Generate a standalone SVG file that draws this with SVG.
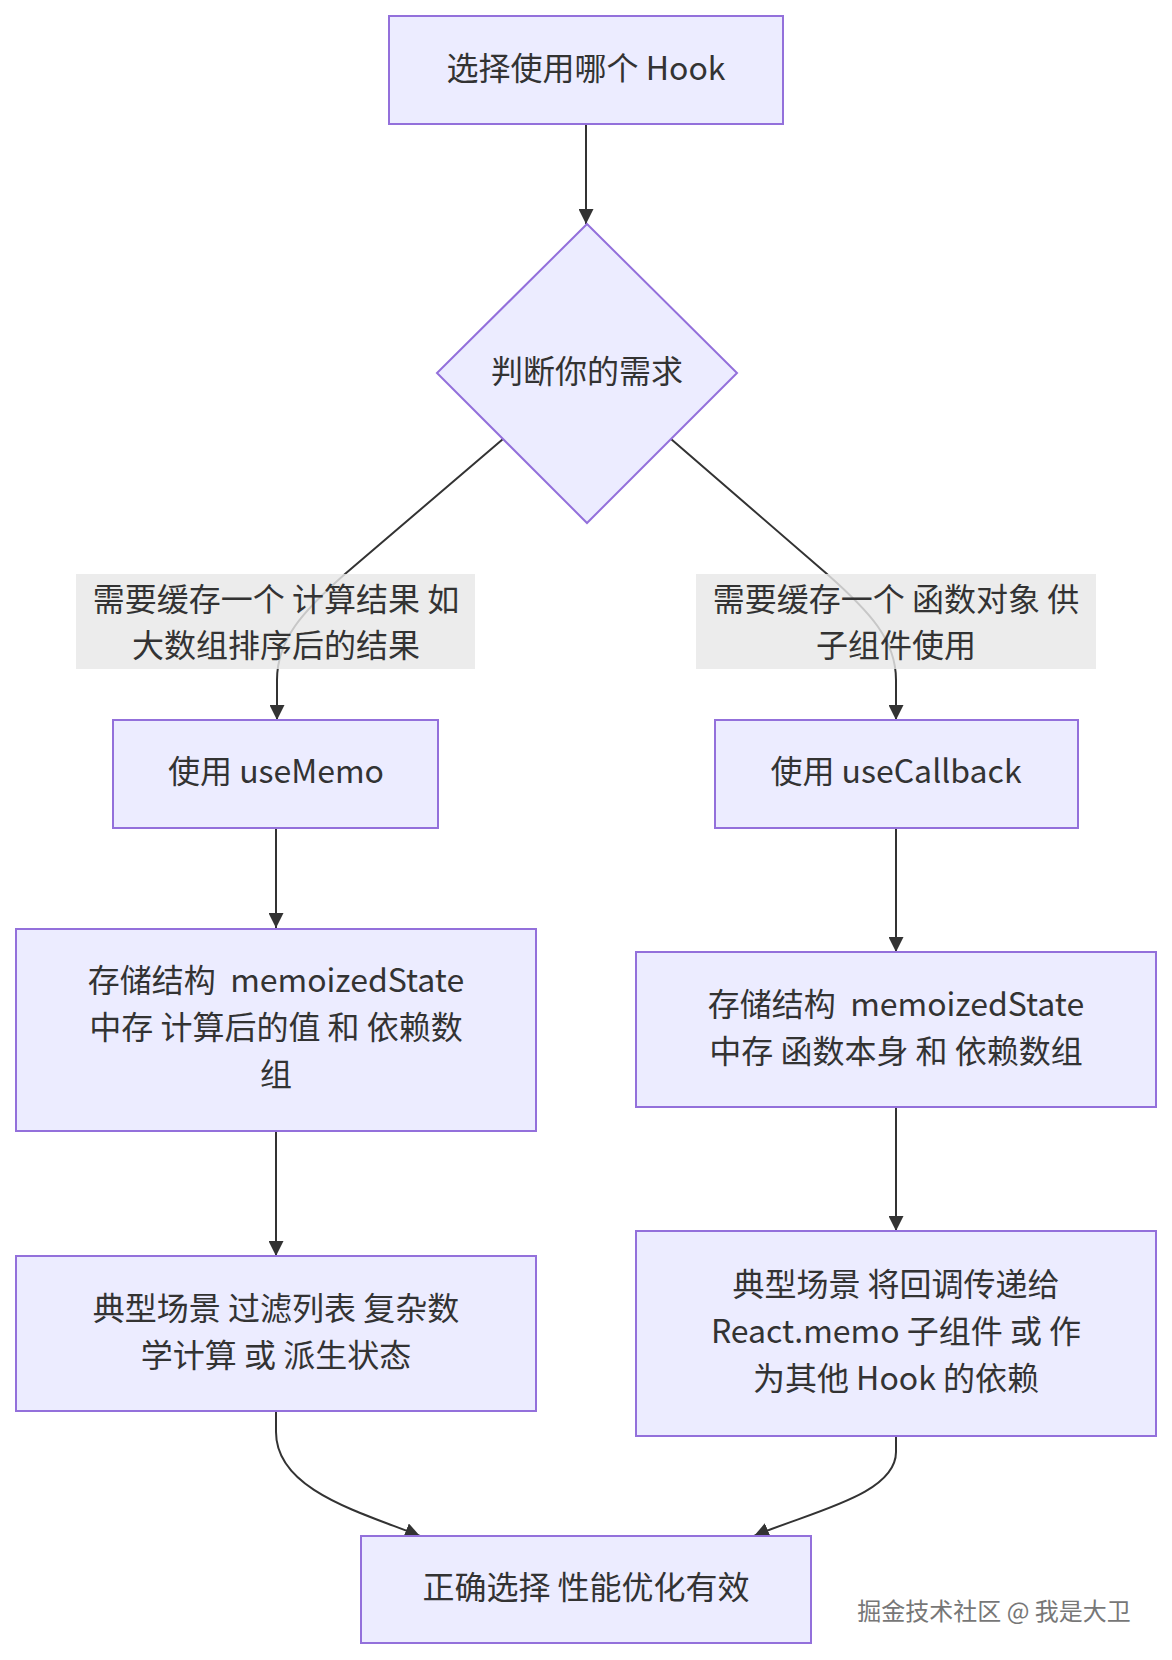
<svg xmlns="http://www.w3.org/2000/svg" width="1172" height="1660" viewBox="0 0 1172 1660">
<defs>
<marker id="arrow" viewBox="0 0 10 10" refX="10" refY="5" markerWidth="15" markerHeight="15" markerUnits="userSpaceOnUse" orient="auto">
<path d="M0,0 L10,5 L0,10 z" fill="#333333"/>
</marker>
<style>
.node{fill:#ECECFF;stroke:#9370DB;stroke-width:2}
.edge{fill:none;stroke:#333333;stroke-width:2;marker-end:url(#arrow)}
.lbl{fill:#e8e8e8;fill-opacity:0.82}
text{font-family:"Noto Sans CJK SC","Noto Sans",sans-serif;font-size:32px;fill:#333333;text-anchor:middle;dominant-baseline:central}
.wm{font-size:24px;fill:#777777;stroke:#ffffff;stroke-width:0.6;paint-order:stroke}
</style>
</defs>
<rect width="1172" height="1660" fill="#ffffff"/>
<g id="connectors">
<path class="edge" d="M586,124 L586,224"/>
<path class="edge" d="M503,439 L345,574 C302,612 277,640 277,680 L277,720"/>
<path class="edge" d="M671,439 L827,574 C870,612 896,640 896,680 L896,720"/>
<path class="edge" d="M276,828 L276,928"/>
<path class="edge" d="M896,828 L896,952"/>
<path class="edge" d="M276,1131 L276,1256"/>
<path class="edge" d="M896,1107 L896,1231"/>
<path class="edge" d="M276,1411 L276,1432 C276,1490 360,1512 420,1536"/>
<path class="edge" d="M896,1436 L896,1452 C896,1495 810,1512 754,1536"/>
<g id="label-left">
<rect class="lbl" x="76" y="574" width="399" height="95"/>
<text x="276" y="597">需要缓存一个 计算结果 如</text>
<text x="276" y="643">大数组排序后的结果</text>
</g>
<g id="label-right">
<rect class="lbl" x="696" y="574" width="400" height="95"/>
<text x="896" y="597">需要缓存一个 函数对象 供</text>
<text x="896" y="643">子组件使用</text>
</g>
</g>
<g id="start">
<rect class="node" x="389" y="16" width="394" height="108"/>
<text x="586" y="66">选择使用哪个 Hook</text>
</g>
<g id="decide">
<polygon class="node" points="587,224 737,373 587,523 437,373"/>
<text x="587" y="369">判断你的需求</text>
</g>
<g id="useMemo">
<rect class="node" x="113" y="720" width="325" height="108"/>
<text x="276" y="769">使用 useMemo</text>
</g>
<g id="useCallback">
<rect class="node" x="715" y="720" width="363" height="108"/>
<text x="896" y="769">使用 useCallback</text>
</g>
<g id="memoStore">
<rect class="node" x="16" y="929" width="520" height="202"/>
<text x="276" y="978" style="white-space:pre">存储结构  memoizedState</text>
<text x="276" y="1025">中存 计算后的值 和 依赖数</text>
<text x="276" y="1072">组</text>
</g>
<g id="cbStore">
<rect class="node" x="636" y="952" width="520" height="155"/>
<text x="896" y="1002" style="white-space:pre">存储结构  memoizedState</text>
<text x="896" y="1049">中存 函数本身 和 依赖数组</text>
</g>
<g id="memoScene">
<rect class="node" x="16" y="1256" width="520" height="155"/>
<text x="276" y="1306">典型场景 过滤列表 复杂数</text>
<text x="276" y="1353">学计算 或 派生状态</text>
</g>
<g id="cbScene">
<rect class="node" x="636" y="1231" width="520" height="205"/>
<text x="896" y="1282">典型场景 将回调传递给</text>
<text x="896" y="1329">React.memo 子组件 或 作</text>
<text x="896" y="1376">为其他 Hook 的依赖</text>
</g>
<g id="final">
<rect class="node" x="361" y="1536" width="450" height="107"/>
<text x="586" y="1585">正确选择 性能优化有效</text>
</g>
<text class="wm" x="994" y="1609">掘金技术社区 @ 我是大卫</text>
</svg>
